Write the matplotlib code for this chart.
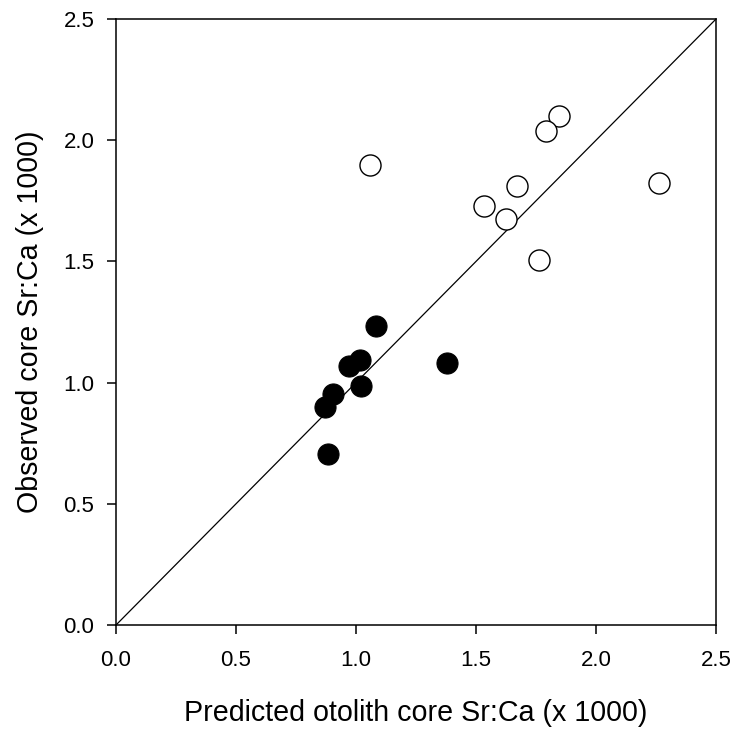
import matplotlib
matplotlib.use("Agg")
import matplotlib.pyplot as plt

plt.rcParams["font.family"] = ["Liberation Sans", "DejaVu Sans"]

# filled circles
pred_filled = [1.085, 1.015, 0.97, 1.02, 1.38, 0.905, 0.87, 0.885]
obs_filled = [1.235, 1.095, 1.07, 0.985, 1.083, 0.955, 0.898, 0.705]

# open circles
pred_open = [1.058, 1.846, 1.792, 1.533, 1.671, 1.625, 1.764, 2.262]
obs_open = [1.898, 2.10, 2.038, 1.729, 1.811, 1.675, 1.505, 1.823]

ticks = [0.0, 0.5, 1.0, 1.5, 2.0, 2.5]

fig = plt.figure(figsize=(7.36, 7.30), dpi=100)
ax = fig.add_axes([0.1576, 0.1438, 0.8152, 0.8301])

# 1:1 line
ax.plot([0, 2.5], [0, 2.5], color="black", lw=0.9, zorder=1)

ax.scatter(pred_filled, obs_filled, s=230, c="black", edgecolors="black",
           linewidths=0.8, zorder=3)
ax.scatter(pred_open, obs_open, s=230, facecolors="white", edgecolors="black",
           linewidths=1.0, zorder=3)

ax.set_xlim(0, 2.5)
ax.set_ylim(0, 2.5)
ax.set_xticks(ticks)
ax.set_yticks(ticks)
ax.set_xticklabels([f"{t:.1f}" for t in ticks])
ax.set_yticklabels([f"{t:.1f}" for t in ticks])
ax.tick_params(direction="out", length=6.5, width=1.1, labelsize=16)
ax.tick_params(axis="x", pad=11.5)
ax.tick_params(axis="y", pad=9)

for sp in ax.spines.values():
    sp.set_linewidth(1.1)

ax.set_xlabel("Predicted otolith core Sr:Ca (x 1000)", fontsize=20.6, labelpad=20)
ax.set_ylabel("Observed core Sr:Ca (x 1000)", fontsize=20.6, labelpad=14)

fig.savefig("out.png", dpi=100)
